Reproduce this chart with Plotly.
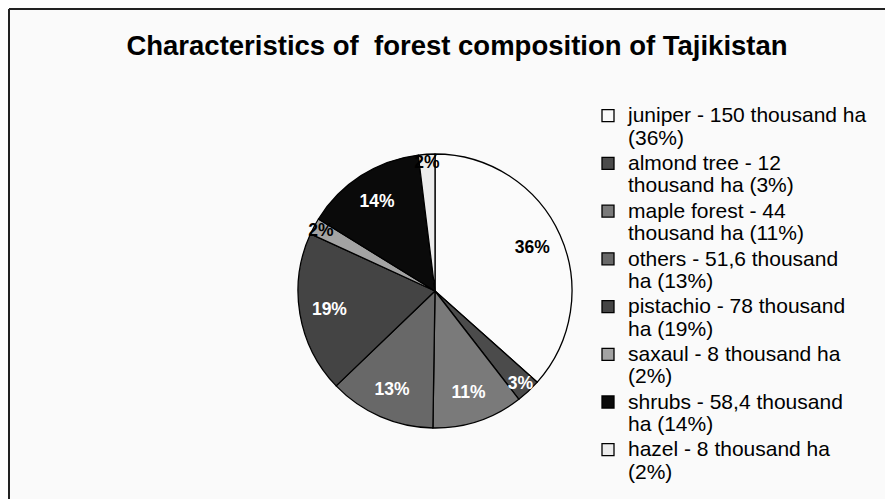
import plotly.graph_objects as go

species = ["juniper", "almond tree", "maple forest", "others", "pistachio", "saxaul", "shrubs", "hazel"]
area_kha = [150, 12, 44, 51.6, 78, 8, 58.4, 8]
pct_labels = ["36%", "3%", "11%", "13%", "19%", "2%", "14%", "2%"]
legend_lines = [
    "juniper - 150 thousand ha<br>(36%)",
    "almond tree - 12<br>thousand ha (3%)",
    "maple forest - 44<br>thousand ha (11%)",
    "others - 51,6 thousand<br>ha (13%)",
    "pistachio - 78 thousand<br>ha (19%)",
    "saxaul - 8 thousand ha<br>(2%)",
    "shrubs - 58,4 thousand<br>ha (14%)",
    "hazel - 8 thousand ha<br>(2%)",
]
colors = ["#fbfbfb", "#4b4b4b", "#7a7a7a", "#686868", "#444444", "#a3a3a3", "#0a0a0a", "#ececec"]
text_colors = ["#000000", "#ffffff", "#ffffff", "#ffffff", "#ffffff", "#000000", "#ffffff", "#000000"]

W, H = 893, 499
OFF = 8  # page body margin in the browser

def px_x(x):
    return (x - OFF) / W

def px_y(y):
    return 1 - (y - OFF) / H

SPAN = '<span style="font-size:21px">'
labels = [SPAN + s.replace("<br>", "</span><br>" + SPAN) + "</span>" for s in legend_lines]
pie_domain = dict(x=[px_x(298), px_x(572)], y=[px_y(428), px_y(154)])
label_font = dict(family="Liberation Sans, Arial, sans-serif", size=17.5, color=text_colors, weight="bold")

# filled pie (slices + outlines, legend)
fig = go.Figure(go.Pie(
    labels=labels,
    values=area_kha,
    textinfo="none",
    sort=False,
    direction="clockwise",
    rotation=0,
    marker=dict(colors=colors, line=dict(color="#000000", width=1.3)),
    domain=pie_domain,
    hoverinfo="label+value",
))

# transparent ring of the same data, only to place the percentage labels further out
fig.add_trace(go.Pie(
    labels=labels,
    values=area_kha,
    text=pct_labels,
    textinfo="text",
    textposition="inside",
    insidetextorientation="horizontal",
    hole=0.56,
    sort=False,
    direction="clockwise",
    rotation=0,
    marker=dict(colors=["rgba(0,0,0,0)"] * len(area_kha), line=dict(width=0)),
    textfont=label_font,
    domain=pie_domain,
    showlegend=False,
    hoverinfo="skip",
))

fig.update_layout(
    width=W, height=H,
    margin=dict(l=0, r=0, t=0, b=0),
    paper_bgcolor="#fafafa",
    plot_bgcolor="#fafafa",
    font=dict(family="Liberation Sans, Arial, sans-serif", color="#000000"),
    uniformtext=dict(minsize=17.5, mode="show"),
    title=dict(
        text="<b>Characteristics of  forest composition of Tajikistan</b>",
        x=px_x(457), xanchor="center",
        y=px_y(45), yanchor="middle",
        font=dict(size=27.5, family="Liberation Sans, Arial, sans-serif", color="#000000"),
    ),
    legend=dict(
        x=px_x(588), xanchor="left",
        y=px_y(98), yanchor="top",
        valign="top",
        font=dict(size=17.2, color="#000000"),
        bgcolor="rgba(0,0,0,0)",
        tracegroupgap=0,
        itemwidth=30,
    ),
    showlegend=True,
    shapes=[
        dict(type="line", xref="paper", yref="paper", x0=px_x(9), x1=px_x(9), y0=0, y1=px_y(9),
             line=dict(color="#222222", width=2)),
        dict(type="line", xref="paper", yref="paper", x0=px_x(9), x1=1, y0=px_y(9), y1=px_y(9),
             line=dict(color="#222222", width=2)),
    ],
)

fig.write_html("out.html")
